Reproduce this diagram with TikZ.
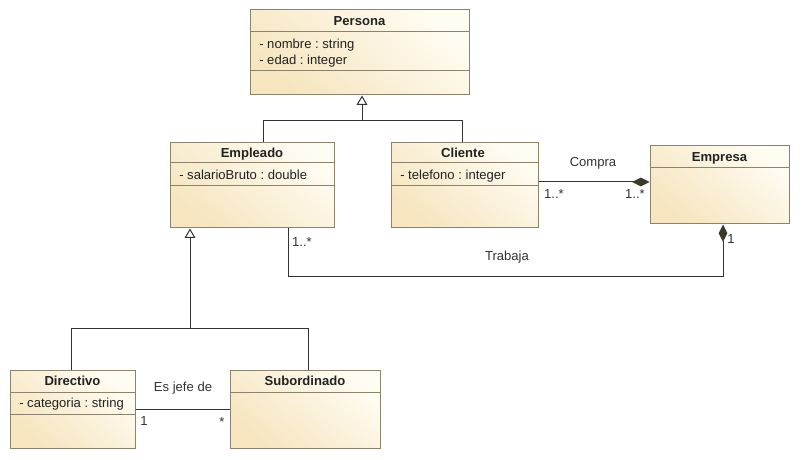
\documentclass[tikz,border=0pt]{standalone}
\usepackage{fontspec}
\setmainfont{Liberation Sans}
\usetikzlibrary{arrows.meta,fit,calc}
\frenchspacing
\definecolor{umlborder}{HTML}{8C826E}
\definecolor{umllight}{HTML}{FFFCF2}
\definecolor{umldark}{HTML}{F6E5BF}
\definecolor{umlline}{HTML}{333333}
\definecolor{umldia}{HTML}{3C3A2C}
\definecolor{umltext}{HTML}{222222}
\begin{document}
\begin{tikzpicture}[x=0.75pt,y=-0.75pt,
  classbox/.style={draw=umlborder, line width=0.75pt, inner sep=0pt,
    top color=umllight, bottom color=umldark, shading angle=-40},
  sep/.style={draw=umlborder, line width=0.75pt},
  txt/.style={inner sep=0pt, text height=7pt, text depth=0pt, text=umltext,
    font=\fontsize{9.8}{11}\selectfont\frenchspacing},
  cname/.style={txt, font=\fontsize{9.8}{11}\selectfont\bfseries},
  attr/.style={txt, anchor=west},
  lbl/.style={txt, text=umlline},
  conn/.style={draw=umlline, line width=0.75pt},
  gen/.style={conn, -{Triangle[width=8pt,length=7pt,fill=white]}},
  comp/.style={conn, -{Diamond[width=6.5pt,length=13pt,fill=umldia,color=umldia]}}]
\useasboundingbox (0,0) rectangle (801,460);

% Persona
\node[classbox, fit={(250,10) (469,95)}] (persona) {};
\node[cname] (personaN) at (359.5,21) {Persona};
\draw[sep] (persona.west |- 0,32) -- (persona.east |- 0,32);
\draw[sep] (persona.west |- 0,71) -- (persona.east |- 0,71);
\node[attr] (personaA1) at (259,44) {- nombre : string};
\node[attr] (personaA2) at (259,60) {- edad : integer};

% Empleado
\node[classbox, fit={(170,143) (334,228)}] (empleado) {};
\node[cname] (empleadoN) at (252,153) {Empleado};
\draw[sep] (empleado.west |- 0,163) -- (empleado.east |- 0,163);
\draw[sep] (empleado.west |- 0,186) -- (empleado.east |- 0,186);
\node[attr] (empleadoA1) at (179,175) {- salarioBruto : double};

% Cliente
\node[classbox, fit={(391,143) (538,228)}] (cliente) {};
\node[cname] (clienteN) at (463,153) {Cliente};
\draw[sep] (cliente.west |- 0,163) -- (cliente.east |- 0,163);
\draw[sep] (cliente.west |- 0,186) -- (cliente.east |- 0,186);
\node[attr] (clienteA1) at (400,175) {- telefono : integer};

% Empresa
\node[classbox, fit={(650,146) (789,224)}] (empresa) {};
\node[cname] (empresaN) at (719.5,157) {Empresa};
\draw[sep] (empresa.west |- 0,168) -- (empresa.east |- 0,168);

% Directivo
\node[classbox, fit={(10,370) (135,448)}] (directivo) {};
\node[cname] (directivoN) at (72.5,381) {Directivo};
\draw[sep] (directivo.west |- 0,392) -- (directivo.east |- 0,392);
\draw[sep] (directivo.west |- 0,414) -- (directivo.east |- 0,414);
\node[attr] (directivoA1) at (19,403) {- categoria : string};

% Subordinado
\node[classbox, fit={(230,370) (380,448)}] (subordinado) {};
\node[cname] (subordinadoN) at (305,381) {Subordinado};
\draw[sep] (subordinado.west |- 0,392) -- (subordinado.east |- 0,392);

% Generalizations
\coordinate (gj1) at (362,121);
\draw[gen] ($(empleado.north)+(11,0)$) |- (gj1) -- ($(persona.south)+(2.5,0)$);
\draw[conn] ($(cliente.north)+(-2.5,0)$) |- (gj1);
\coordinate (gj2) at (190,328);
\draw[gen] ($(directivo.north)+(-1.5,0)$) |- (gj2) -- ($(empleado.south)+(-62,0)$);
\draw[conn] ($(subordinado.north)+(3,0)$) |- (gj2);

% Compra
\draw[comp] ($(cliente.east)+(0,-3.5)$) -- ($(empresa.west)+(0,-3)$);
\node[lbl] (lCompra) at (593,162) {Compra};
\node[lbl] (mC1) at (554,194) {1..*};
\node[lbl] (mC2) at (635,194) {1..*};

% Trabaja
\draw[comp] ($(empleado.south)+(36,0)$) |- ($(empresa.south)+(3.5,52)$) -- ($(empresa.south)+(3.5,0)$);
\node[lbl] (lTrabaja) at (507,256) {Trabaja};
\node[lbl] (mT1) at (302,242) {1..*};
\node[lbl] (mT2) at (731,239) {1};

% Es jefe de
\draw[conn] (directivo.east) -- (subordinado.west);
\node[lbl] (lJefe) at (183,387) {Es jefe de};
\node[lbl] (mJ1) at (144,421) {1};
\node[lbl] (mJ2) at (222,421.5) {*};
\end{tikzpicture}
\end{document}
